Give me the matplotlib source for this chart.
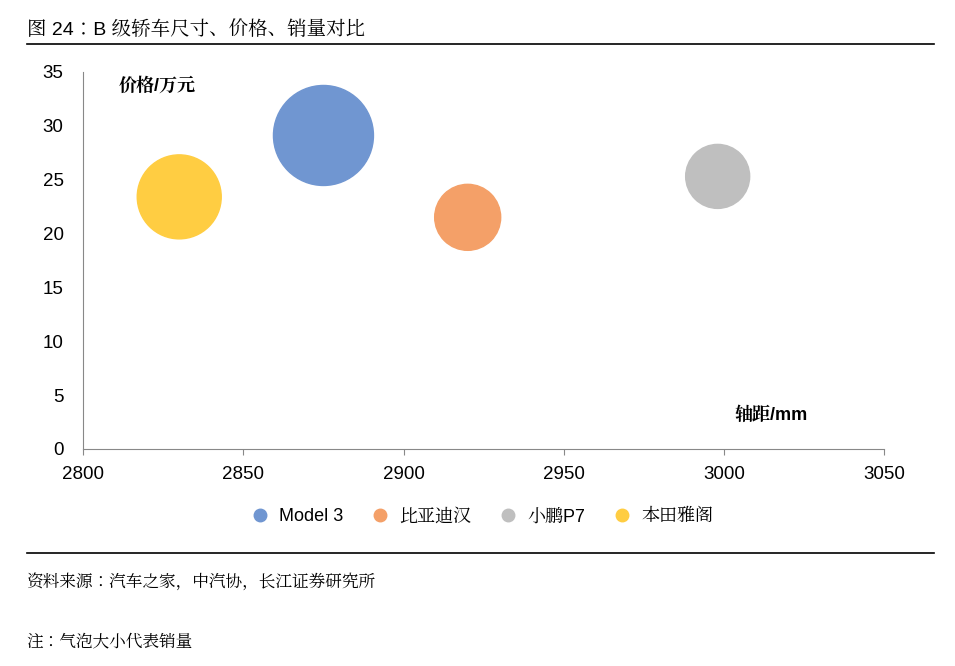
import matplotlib.pyplot as plt
from matplotlib import font_manager as fm
from matplotlib.lines import Line2D

# locate a CJK font file and register it
cjk = 'Noto Sans CJK SC'
for p in fm.findSystemFonts():
    if 'CJK' in p or 'cjk' in p.lower():
        fm.fontManager.addfont(p)
        cjk = fm.FontProperties(fname=p).get_name()
        break
plt.rcParams['font.family'] = ['Liberation Sans', cjk]

# car models, wheelbase (mm), price (10k yuan), sales (bubble size, estimated)
names = ['Model 3', '比亚迪汉', '小鹏P7', '本田雅阁']
wheelbase = [2875, 2920, 2998, 2830]
price = [29.1, 21.5, 25.3, 23.4]
sales = [10000, 4356, 4096, 7056]
colors = ['#7096D1', '#F4A068', '#BFBFBF', '#FFCD42']

xticks = [2800, 2850, 2900, 2950, 3000, 3050]
yticks = [0, 5, 10, 15, 20, 25, 30, 35]

f = plt.figure(figsize=(9.55, 6.66), dpi=100)
ax = f.add_axes([0.087, 0.326, 0.839, 0.566])
scale = 5184 / 10000
ax.scatter(wheelbase, price, s=[v * scale for v in sales], c=colors, zorder=3)
ax.set_xlim(2800, 3050)
ax.set_ylim(0, 35)
ax.set_xticks(xticks)
ax.set_yticks(yticks)
ax.tick_params(labelsize=13.5, length=4, color='#888888')
ax.tick_params(axis='x', pad=8)
ax.tick_params(axis='y', length=0, pad=14)
for s in ['top', 'right']:
    ax.spines[s].set_visible(False)
for s in ['left', 'bottom']:
    ax.spines[s].set_color('#888888')
ax.text(2811, 33.3, '价格/万元', fontsize=13, fontweight='bold')
ax.text(3026, 2.7, '轴距/mm', fontsize=13, fontweight='bold', ha='right')

handles = [Line2D([], [], marker='o', ls='', color=c, markersize=9) for c in colors]
f.legend(handles, names, loc='center', bbox_to_anchor=(0.5, 0.224), ncol=4,
         frameon=False, fontsize=13, handletextpad=0.1, columnspacing=1.0)

f.text(0.028, 0.955, '图 24：B 级轿车尺寸、价格、销量对比', fontsize=14, va='center')
f.add_artist(Line2D([0.028, 0.978], [0.934, 0.934], color='black', lw=1.2))
f.add_artist(Line2D([0.028, 0.978], [0.17, 0.17], color='black', lw=1.2))
f.text(0.028, 0.128, '资料来源：汽车之家，中汽协，长江证券研究所', fontsize=12, va='center')
f.text(0.028, 0.037, '注：气泡大小代表销量', fontsize=12, va='center')

plt.savefig('out.png', dpi=100)
plt.close()
